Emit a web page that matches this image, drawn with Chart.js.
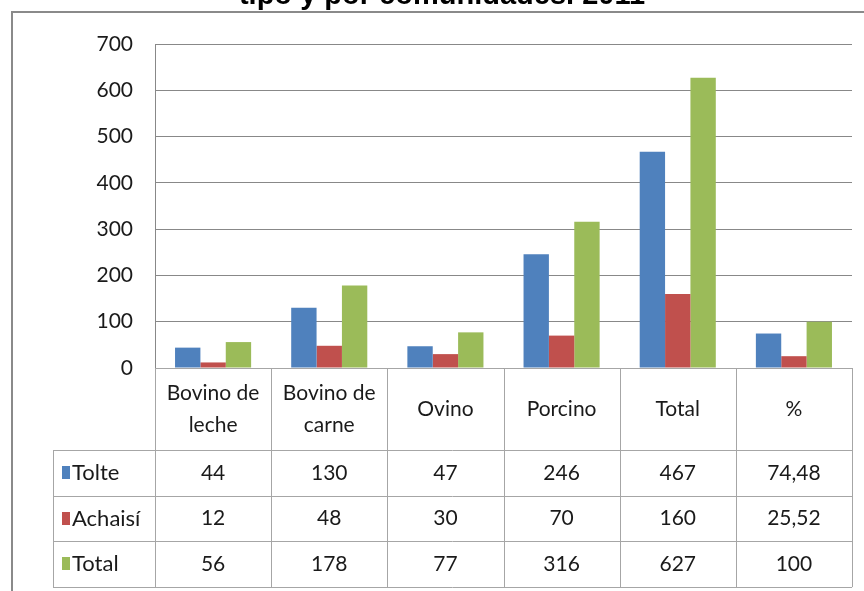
<!DOCTYPE html>
<html lang="es">
<head>
<meta charset="UTF-8">
<title>Ganado por tipo y por comunidades 2011</title>
<script src="https://cdn.jsdelivr.net/npm/chart.js@4.4.1/dist/chart.umd.min.js"></script>
<style>
  body { margin: 0; background: #fff; }
</style>
</head>
<body>
<canvas id="grafico" width="864" height="591"></canvas>
<script>
// Datos
var categorias = [['Bovino de', 'leche'], ['Bovino de', 'carne'], 'Ovino', 'Porcino', 'Total', '%'];
var tolte = [44, 130, 47, 246, 467, 74.48];
var achaisi = [12, 48, 30, 70, 160, 25.52];
var total = [56, 178, 77, 316, 627, 100];
var series = ['Tolte', 'Achaisí', 'Total'];
var colores = ['#4f81bd', '#c0504d', '#9bbb59'];
var titulo = 'tipo y por comunidades. 2011';

var fuente = 'Lato, "DejaVu Sans", sans-serif';
var gris = '#888888';

function formato(v) {
    return String(v).replace('.', ',');
}

// Dibuja el titulo cortado, el marco y la tabla de datos bajo el grafico
var tablaDatos = {
    id: 'tablaDatos',
    afterDraw: function (chart) {
        var ctx = chart.ctx;
        var area = chart.chartArea;
        var x = chart.scales.x;
        var anchoCat = (area.right - area.left) / categorias.length;
        var filaCab = 82, filaAlto = 45.7;
        var yFilas = area.bottom + filaCab;
        var yFin = yFilas + filaAlto * series.length;
        var xLeyenda = 53;

        ctx.save();
        // titulo (solo se ve la parte de abajo)
        ctx.fillStyle = '#000';
        ctx.font = 'bold 29px "Liberation Sans", Arial, sans-serif';
        ctx.textAlign = 'center';
        ctx.textBaseline = 'alphabetic';
        ctx.fillText(titulo, 442, 4);

        // marco del grafico
        ctx.strokeStyle = '#8a8a8a';
        ctx.lineWidth = 2;
        ctx.beginPath();
        ctx.moveTo(12, 591);
        ctx.lineTo(12, 12);
        ctx.lineTo(864, 12);
        ctx.stroke();

        // lineas de la tabla
        ctx.strokeStyle = '#a6a6a6';
        ctx.lineWidth = 1;
        ctx.beginPath();
        ctx.moveTo(area.left, area.bottom + 0.5);
        ctx.lineTo(area.right, area.bottom + 0.5);
        for (var r = 0; r <= series.length; r++) {
            var yy = Math.round(yFilas + r * filaAlto) + 0.5;
            ctx.moveTo(xLeyenda, yy);
            ctx.lineTo(area.right, yy);
        }
        for (var c = 0; c <= categorias.length; c++) {
            var xx = Math.round(area.left + c * anchoCat) + 0.5;
            ctx.moveTo(xx, area.bottom);
            ctx.lineTo(xx, yFin);
        }
        ctx.moveTo(xLeyenda + 0.5, yFilas);
        ctx.lineTo(xLeyenda + 0.5, yFin);
        ctx.stroke();

        // valores y leyenda
        ctx.textBaseline = 'middle';
        chart.data.datasets.forEach(function (ds, i) {
            var yc = yFilas + filaAlto * (i + 0.5);
            ctx.fillStyle = ds.backgroundColor;
            ctx.fillRect(62, Math.round(yc) - 7, 8, 13);
            ctx.fillStyle = '#1a1a1a';
            ctx.textAlign = 'left';
            ctx.font = '22px ' + fuente;
            ctx.fillText(ds.label, 72, yc);
            ctx.textAlign = 'center';
            ctx.font = '21px ' + fuente;
            ds.data.forEach(function (v, j) {
                ctx.fillText(formato(v), x.getPixelForValue(j), yc);
            });
        });
        ctx.restore();
    }
};

new Chart(document.getElementById('grafico'), {
    type: 'bar',
    data: {
        labels: categorias,
        datasets: [
            { label: series[0], data: tolte, backgroundColor: colores[0] },
            { label: series[1], data: achaisi, backgroundColor: colores[1] },
            { label: series[2], data: total, backgroundColor: colores[2] }
        ]
    },
    options: {
        responsive: false,
        animation: false,
        layout: { padding: { top: 44, right: 12, left: 0, bottom: 0 } },
        datasets: { bar: { categoryPercentage: 0.655, barPercentage: 1 } },
        plugins: {
            legend: { display: false },
            title: { display: false },
            tooltip: { enabled: false }
        },
        scales: {
            x: {
                grid: { display: false, drawTicks: false },
                border: { display: false },
                ticks: {
                    color: '#1a1a1a',
                    font: { family: fuente, size: 21, lineHeight: 1.55 },
                    maxRotation: 0,
                    autoSkip: false,
                    crossAlign: 'center',
                    padding: 25
                },
                afterFit: function (s) { s.height = 591 - 368; }
            },
            y: {
                min: 0,
                max: 700,
                ticks: {
                    stepSize: 100,
                    color: '#1a1a1a',
                    font: { family: fuente, size: 21 },
                    padding: 22
                },
                grid: { color: gris, drawTicks: false },
                border: { color: gris },
                afterFit: function (s) { s.width = 155; }
            }
        }
    },
    plugins: [tablaDatos]
});
</script>
</body>
</html>
